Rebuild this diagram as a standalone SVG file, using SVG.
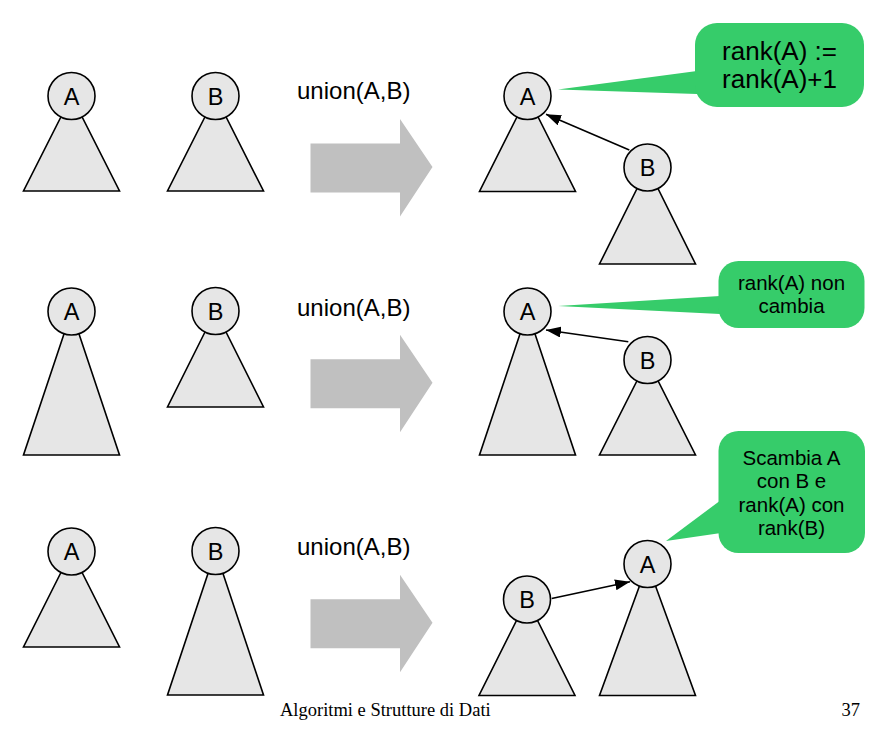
<svg xmlns="http://www.w3.org/2000/svg" width="879" height="744" viewBox="0 0 879 744">
<style>
.tri{fill:#e6e6e6;stroke:#000;stroke-width:1.6;stroke-linejoin:miter}
.nd{fill:#e6e6e6;stroke:#000;stroke-width:1.6}
.lbl{font-family:"Liberation Sans",Arial,sans-serif;font-size:23.5px;text-anchor:middle;fill:#000}
.op{font-family:"Liberation Sans",Arial,sans-serif;font-size:24px;fill:#000}
.big{fill:#c0c0c0}
.co{fill:#36cc6a}
.ct{font-family:"Liberation Sans",Arial,sans-serif;text-anchor:middle;fill:#000}
.edge{stroke:#000;stroke-width:1.6;fill:none;marker-end:url(#ah)}
.foot{font-family:"Liberation Serif","Times New Roman",serif;font-size:18.5px;fill:#000}
</style>
<defs>
<marker id="ah" markerUnits="userSpaceOnUse" markerWidth="15" markerHeight="11" refX="15" refY="5.5" orient="auto">
<path d="M0,0 L15,5.5 L0,11 Z" fill="#000"/>
</marker>
<path id="bigArrow" d="M310.5,143.5 H400 V119 L432.5,167 L400,216.5 V192.5 H310.5 Z"/>
</defs>
<rect width="879" height="744" fill="#fff"/>

<!-- Row 1 -->
<g id="r1-left-A"><polygon class="tri" points="71.5,96 23.5,191 119.5,191"/><circle class="nd" cx="71.5" cy="96" r="23.5"/><text class="lbl" x="71.5" y="104.5">A</text></g>
<g id="r1-left-B"><polygon class="tri" points="215.5,96 167.5,191 263.5,191"/><circle class="nd" cx="215.5" cy="96" r="23.5"/><text class="lbl" x="215.5" y="104.5">B</text></g>
<text id="r1-op" class="op" x="297" y="98.5">union(A,B)</text>
<g id="r1-arrow"><use href="#bigArrow" class="big"/></g>
<g id="r1-right-A"><polygon class="tri" points="527.5,96 479.5,191.5 575.5,191.5"/><circle class="nd" cx="527.5" cy="96" r="23.5"/><text class="lbl" x="527.5" y="104.5">A</text></g>
<g id="r1-right-B"><polygon class="tri" points="647.5,167.5 599.5,264 695.5,264"/><circle class="nd" cx="647.5" cy="167.5" r="23.5"/><text class="lbl" x="647.5" y="176">B</text></g>
<g id="callout1"><polygon class="co" points="558,89.5 697,71 697,94"/><rect class="co" x="695" y="23" width="169" height="84" rx="22"/><text class="ct" font-size="26" x="779.5" y="60">rank(A) :=</text><text class="ct" font-size="26" x="779.5" y="88">rank(A)+1</text></g>

<!-- Row 2 -->
<g id="r2-left-A"><polygon class="tri" points="71.5,311.5 23.5,455 119.5,455"/><circle class="nd" cx="71.5" cy="311.5" r="23.5"/><text class="lbl" x="71.5" y="320">A</text></g>
<g id="r2-left-B"><polygon class="tri" points="215.5,311 167.5,407 263.5,407"/><circle class="nd" cx="215.5" cy="311" r="23.5"/><text class="lbl" x="215.5" y="319.5">B</text></g>
<text id="r2-op" class="op" x="297" y="315.5">union(A,B)</text>
<g id="r2-arrow"><use href="#bigArrow" class="big" transform="translate(0,215.7)"/></g>
<g id="r2-right-A"><polygon class="tri" points="527.5,311.5 479.5,455 575.5,455"/><circle class="nd" cx="527.5" cy="311.5" r="23.5"/><text class="lbl" x="527.5" y="320">A</text></g>
<g id="r2-right-B"><polygon class="tri" points="647.5,360 599.5,455 695.5,455"/><circle class="nd" cx="647.5" cy="360" r="23.5"/><text class="lbl" x="647.5" y="368.5">B</text></g>
<g id="callout2"><polygon class="co" points="558,306 720,296 720,314"/><rect class="co" x="718.5" y="261" width="146" height="67" rx="20"/><text class="ct" font-size="20.5" x="791.5" y="289.5">rank(A) non</text><text class="ct" font-size="20.5" x="791.5" y="312.5">cambia</text></g>

<!-- Row 3 -->
<g id="r3-left-A"><polygon class="tri" points="71.5,551.5 23.5,647 119.5,647"/><circle class="nd" cx="71.5" cy="551.5" r="23.5"/><text class="lbl" x="71.5" y="560">A</text></g>
<g id="r3-left-B"><polygon class="tri" points="215.5,551 167.5,695 263.5,695"/><circle class="nd" cx="215.5" cy="551" r="23.5"/><text class="lbl" x="215.5" y="559.5">B</text></g>
<text id="r3-op" class="op" x="297" y="554.5">union(A,B)</text>
<g id="r3-arrow"><use href="#bigArrow" class="big" transform="translate(0,455.7)"/></g>
<g id="r3-right-B"><polygon class="tri" points="527,599.5 479,695.5 575,695.5"/><circle class="nd" cx="527" cy="599.5" r="23.5"/><text class="lbl" x="527" y="608">B</text></g>
<g id="r3-right-A"><polygon class="tri" points="647.5,564 599.5,695.5 695.5,695.5"/><circle class="nd" cx="647.5" cy="564" r="23.5"/><text class="lbl" x="647.5" y="572.5">A</text></g>
<g id="callout3"><polygon class="co" points="666,541 721,500 721,533"/><rect class="co" x="718.5" y="431" width="146.5" height="122" rx="20"/><text class="ct" font-size="20.5" x="791.5" y="464.5">Scambia A</text><text class="ct" font-size="20.5" x="791.5" y="488">con B e</text><text class="ct" font-size="20.5" x="791.5" y="511.5">rank(A) con</text><text class="ct" font-size="20.5" x="791.5" y="535">rank(B)</text></g>

<!-- Connectors -->
<g id="connectors">
<line class="edge" x1="629.3" y1="150" x2="546" y2="114.3"/>
<line class="edge" x1="628.3" y1="341.7" x2="546" y2="330"/>
<line class="edge" x1="551.7" y1="598.5" x2="630" y2="581.7"/>
</g>

<text id="footer" class="foot" x="280" y="716">Algoritmi e Strutture di Dati</text>
<text id="page" class="foot" x="860" y="716" text-anchor="end">37</text>
</svg>
